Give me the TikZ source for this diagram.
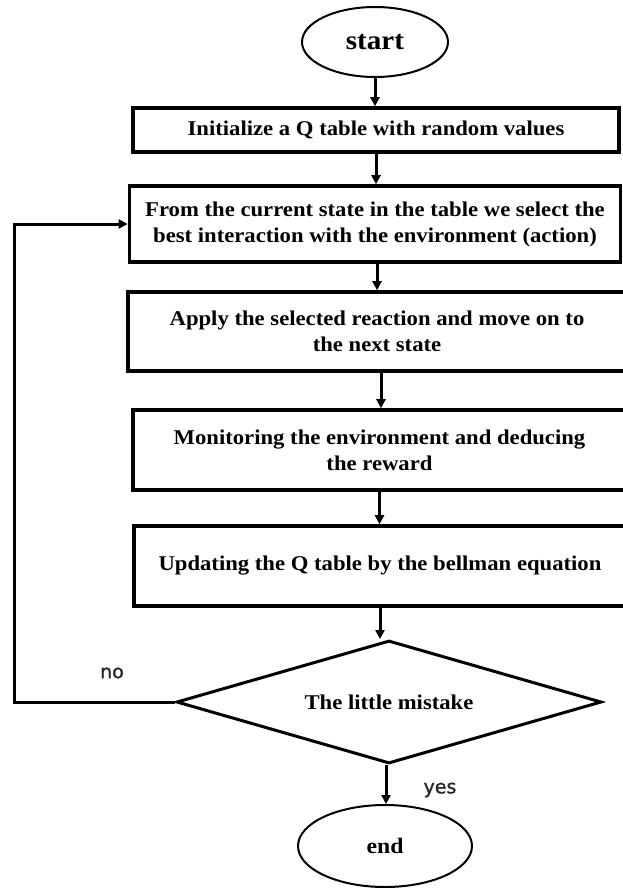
\documentclass[tikz,border=0pt]{standalone}
\usepackage{fontspec}
\setmainfont{Liberation Serif}
\newfontfamily\boxfont[FakeStretch=1.08]{Liberation Serif}
\newfontfamily\labelfont[FakeBold=1.2]{DejaVu Sans}
\usetikzlibrary{shapes.geometric,arrows.meta}
\begin{document}
\begin{tikzpicture}[x=1pt,y=-1pt,
  box/.style={draw,line width=3.6pt,rectangle,inner sep=0pt,align=center,
    font=\boxfont\bfseries\fontsize{21}{26}\selectfont},
  term/.style={draw,line width=2pt,ellipse,inner sep=0pt,
    font=\boxfont\bfseries\fontsize{21}{24}\selectfont},
  dia/.style={draw,diamond,aspect=3.45,line width=3pt,inner sep=0pt,
    font=\boxfont\bfseries\fontsize{21}{24}\selectfont},
  arr/.style={line width=3pt,-{Triangle[length=9pt,width=9pt]}},
  lbl/.style={font=\labelfont\fontsize{19}{22}\selectfont,text=black!85}]
\useasboundingbox (0,0) rectangle (622,888);
\node[term,minimum width=146,minimum height=70,font=\boxfont\bfseries\fontsize{27}{30}\selectfont] (start) at (375,42) {start};
\node[box,minimum width=486,minimum height=44] (b1) at (376,130) {Initialize a Q table with random values};
\node[box,minimum width=491,minimum height=76] (b2) at (375,224) {From the current state in the table we select the\\best interaction with the environment (action)};
\node[box,minimum width=498,minimum height=79] (b3) at (377,331.5) {Apply the selected reaction and move on to\\the next state};
\node[box,minimum width=493,minimum height=80] (b4) at (379.5,450) {Monitoring the environment and deducing\\the reward};
\node[box,minimum width=492,minimum height=80] (b5) at (380,566) {Updating the Q table by the bellman equation};
\node[dia,minimum width=425,minimum height=123] (dec) at (389,702) {The little mistake};
\node[term,minimum width=174,minimum height=82,font=\boxfont\bfseries\fontsize{22}{24}\selectfont] (end) at (385,846) {end};
\node[lbl] (no) at (112,673) {no};
\node[lbl] (yes) at (440,790) {yes};
\coordinate (lp) at (14,0);
\draw[arr] (start.south) -- (start.south |- b1.north);
\draw[arr] (b1.south) -- (b1.south |- b2.north);
\draw[arr] ([xshift=2pt]b2.south) -- ([xshift=2pt]b2.south |- b3.north);
\draw[arr] ([xshift=4pt]b3.south) -- ([xshift=4pt]b3.south |- b4.north);
\draw[arr] (b4.south) -- (b4.south |- b5.north);
\draw[arr] (b5.south) -- (b5.south |- dec.north);
\draw[arr] ([xshift=-3pt]dec.south) -- ([xshift=-3pt]dec.south |- end.north);
\draw[arr] (dec.west) -- (dec.west -| lp) |- (b2.west);
\end{tikzpicture}
\end{document}
